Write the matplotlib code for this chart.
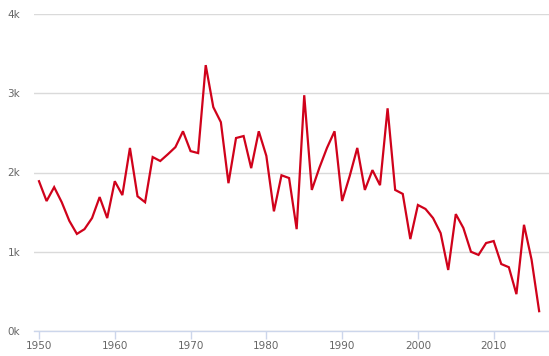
import matplotlib
matplotlib.use("Agg")
from matplotlib import pyplot as plt
from matplotlib.ticker import FuncFormatter

# yearly values
years = list(range(1950, 2017))
values = [1890, 1640, 1815, 1625, 1390, 1225, 1285, 1425, 1690, 1425,
          1890, 1715, 2310, 1700, 1625, 2195, 2145, 2230, 2320, 2520,
          2270, 2245, 3355, 2825, 2635, 1865, 2435, 2460, 2055, 2520,
          2210, 1510, 1965, 1930, 1285, 2975, 1780, 2060, 2310, 2520,
          1640, 1955, 2310, 1780, 2030, 1840, 2810, 1780, 1730, 1160,
          1590, 1540, 1425, 1235, 770, 1475, 1300, 1000, 960, 1110,
          1135, 845, 805, 465, 1340, 900, 250]

x_ticks = [1950, 1960, 1970, 1980, 1990, 2000, 2010]
y_ticks = [0, 1000, 2000, 3000, 4000]

plt.rcParams['font.family'] = ['DejaVu Sans']

fig = plt.figure(figsize=(5.49, 3.56), dpi=100)
ax = fig.add_axes([34 / 549, 25 / 356, 515 / 549, 317 / 356])

ax.plot(years, values, color='#d0021b', linewidth=1.6, solid_joinstyle='miter', zorder=3)

ax.set_xlim(1949.34, 2017.3)
ax.set_ylim(0, 4000)
ax.set_xticks(x_ticks)
ax.set_yticks(y_ticks)
ax.yaxis.set_major_formatter(FuncFormatter(lambda v, p: f"{int(v / 1000)}k"))

ax.grid(axis='y', color='#dadada', linewidth=1)
ax.set_axisbelow(True)
for s in ['top', 'right', 'left']:
    ax.spines[s].set_visible(False)
ax.spines['bottom'].set_color('#ccd6eb')
ax.spines['bottom'].set_linewidth(1)

ax.tick_params(axis='x', colors='#ccd6eb', length=6, width=1, labelcolor='#666666',
               labelsize=7.5, pad=1)
ax.tick_params(axis='y', length=0, labelcolor='#666666', labelsize=7.5, pad=10)

fig.savefig('out.png', dpi=100)
